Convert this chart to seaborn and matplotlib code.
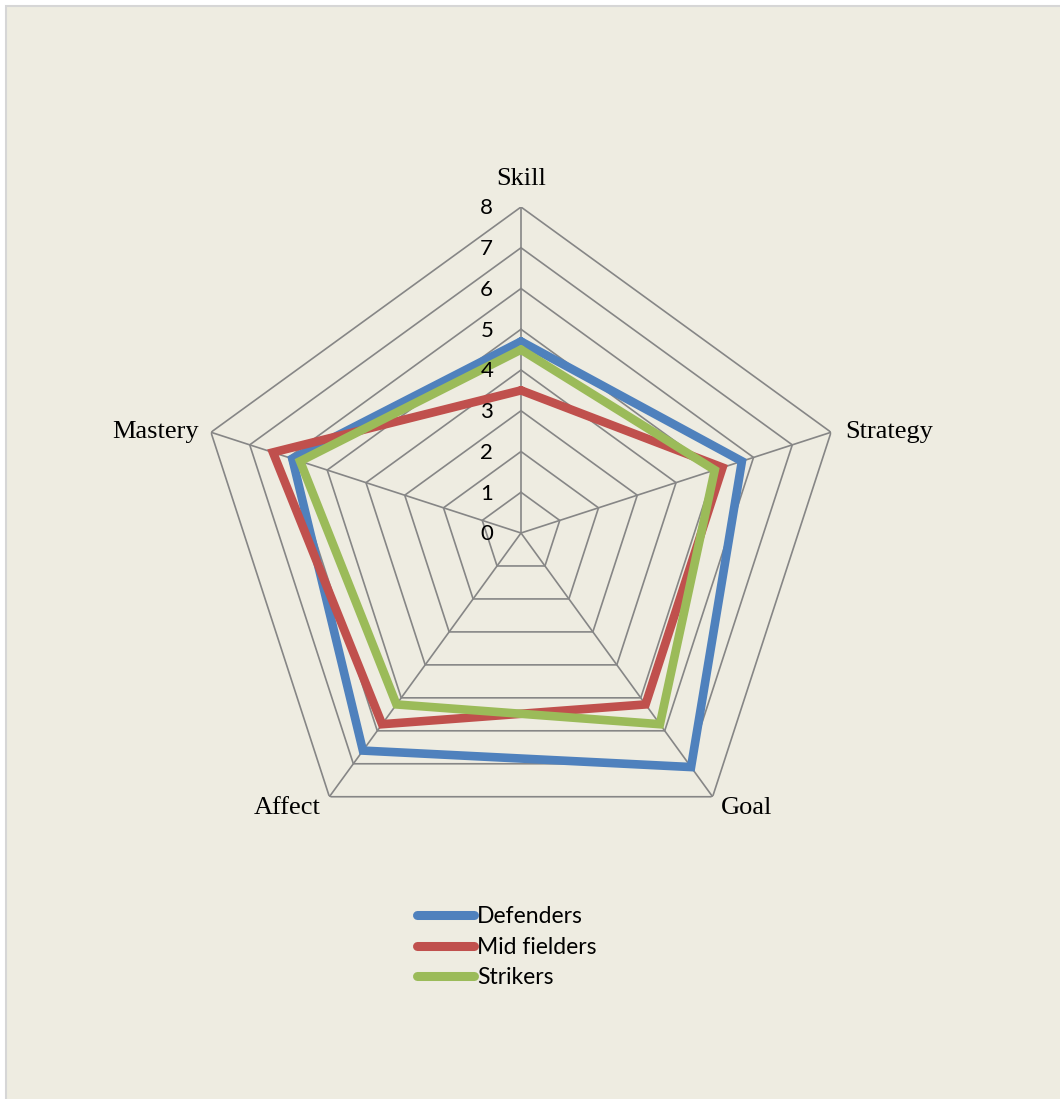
import numpy as np
import pandas as pd
import matplotlib
matplotlib.use("Agg")
import matplotlib.pyplot as plt
from matplotlib.lines import Line2D
from matplotlib.patches import Rectangle
import seaborn as sns

# Data
categories = ["Skill", "Strategy", "Goal", "Affect", "Mastery"]
groups = ["Defenders", "Mid fielders", "Strikers"]
defenders = [4.7, 5.7, 7.1, 6.6, 5.9]
mid_fielders = [3.5, 5.2, 5.2, 5.8, 6.4]
strikers = [4.5, 5.0, 5.8, 5.2, 5.7]
ticks = list(range(0, 9))
colors = ["#4F81BD", "#C0504D", "#9BBB59"]

BG = "#EEECE1"
GRID = "#868686"

sns.set_theme(style="white")
plt.rcParams["font.family"] = ["Lato", "DejaVu Sans"]

W, H = 1060, 1099
fig = plt.figure(figsize=(W / 100, H / 100), dpi=100, facecolor="white")
fig.patches.append(Rectangle((6 / W, -0.1), 1.2, 1 - 6 / H + 0.1, transform=fig.transFigure,
                             facecolor=BG, edgecolor="#D6D6D6", lw=1.5, zorder=-5))

cx, cy, R = 521, 533, 326
ax = fig.add_axes([(cx - R) / W, (H - cy - R) / H, 2 * R / W, 2 * R / H], projection="polar")
ax.set_zorder(1)
ax.set_facecolor("none")
ax.set_theta_zero_location("N")
ax.set_theta_direction(-1)
ax.grid(False)
ax.spines["polar"].set_visible(False)

n = len(categories)
theta = np.linspace(0, 2 * np.pi, n, endpoint=False)
theta_closed = np.append(theta, 2 * np.pi)

# pentagon grid
for r in ticks[1:]:
    ax.plot(theta_closed, [r] * (n + 1), color=GRID, lw=1.2, zorder=1)
for t in theta:
    ax.plot([t, t], [0, 8], color=GRID, lw=1.2, zorder=1)

# series
rows = []
for g, vals in zip(groups, [defenders, mid_fielders, strikers]):
    for t, v in zip(theta_closed, vals + [vals[0]]):
        rows.append({"theta": t, "value": v, "group": g})
df = pd.DataFrame(rows)
sns.lineplot(data=df, x="theta", y="value", hue="group", palette=colors, sort=False,
             estimator=None, lw=6.2, ax=ax, legend=False, zorder=3)
for line in ax.get_lines()[-3:]:
    line.set_solid_joinstyle("miter")
ax.set_xlabel("")
ax.set_ylabel("")
ax.set_xticks([])
ax.set_yticks([])
ax.set_ylim(0, 8)

# radial tick labels
for r in ticks:
    ax.annotate(str(r), xy=(0, r), xytext=(-20, -1), textcoords="offset points",
                ha="right", va="center", fontsize=16, color="black", zorder=4)

# category labels
label_offsets = [(0, 20, "center"), (10, 0, "left"), (6, -8, "left"), (-6, -8, "right"), (-9, 0, "right")]
for t, cat, (dx, dy, ha) in zip(theta, categories, label_offsets):
    ax.annotate(cat, xy=(t, 8), xytext=(dx, dy), textcoords="offset points", ha=ha, va="center",
                fontsize=19, family="Liberation Serif", color="black")

handles = [Line2D([], [], color=c, lw=6.5, solid_capstyle="round") for c in colors]
leg = fig.legend(handles, groups, loc="upper left", bbox_to_anchor=(417 / W, 1 - 906 / H),
                 frameon=False, fontsize=16.5, handlelength=2.5, handletextpad=0.12,
                 labelspacing=0.42, borderpad=0, borderaxespad=0)
for txt in leg.get_texts():
    txt.set_color("black")

fig.savefig("out.png", dpi=100, facecolor="white")
